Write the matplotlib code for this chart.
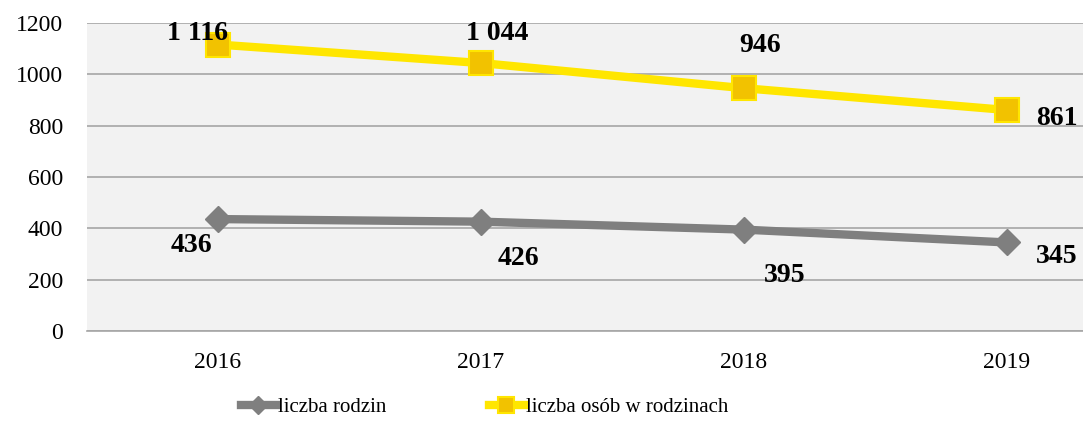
import matplotlib
matplotlib.use('Agg')
import matplotlib.pyplot as plt
import numpy as np

plt.rcParams['font.family'] = ['Liberation Serif', 'DejaVu Serif']

years = ['2016', '2017', '2018', '2019']
rodziny = [436, 426, 395, 345]
osoby = [1116, 1044, 946, 861]
osoby_labels = ['1 116', '1 044', '946', '861']

GRAY = '#7F7F7F'
YELLOW = '#FFE600'
GOLD = '#F2C200'

fig = plt.figure(figsize=(10.83, 4.21), dpi=100)
ax = fig.add_axes([0.0799, 0.2138, 0.971, 0.7316])
ax.set_facecolor('#F2F2F2')

x = np.arange(len(years))
ax.plot(x, rodziny, color=GRAY, lw=6, marker='D', ms=13, mfc=GRAY, mec=GRAY,
        label='liczba rodzin', zorder=3)
ax.plot(x, osoby, color=YELLOW, lw=6, marker='s', ms=17, mfc=GOLD, mec=YELLOW, mew=1.5,
        label='liczba osób w rodzinach', zorder=3)

ax.set_xlim(-0.5, 3.5)
ax.set_ylim(0, 1200)
ax.set_yticks(range(0, 1201, 200))
ax.set_xticks(x)
ax.set_xticklabels(years)
ax.grid(axis='y', color='#A6A6A6', lw=1.2)
ax.set_axisbelow(True)
for s in ['top', 'right', 'left']:
    ax.spines[s].set_visible(False)
ax.spines['bottom'].set_color('#A6A6A6')
ax.spines['bottom'].set_linewidth(1.2)
ax.tick_params(length=0, labelsize=17)
ax.tick_params(axis='x', pad=15)
ax.tick_params(axis='y', pad=17)

# data labels: (dx, dy, ha) offsets in points, text baseline at dy
lab_kw = dict(textcoords='offset points', fontsize=20, fontweight='bold',
              va='baseline', annotation_clip=False)
osoby_off = [(-15, 3, 'center'), (12, 16.5, 'center'), (11.5, 26, 'center'), (21.5, -11, 'left')]
for i, (v, t) in enumerate(zip(osoby, osoby_labels)):
    dx, dy, ha = osoby_off[i]
    ax.annotate(t, (i, v), xytext=(dx, dy), ha=ha, **lab_kw)

rodziny_off = [(-19, -24, 'center'), (27, -31, 'center'), (29.5, -37.5, 'center'), (21, -15, 'left')]
for i, v in enumerate(rodziny):
    dx, dy, ha = rodziny_off[i]
    ax.annotate(str(v), (i, v), xytext=(dx, dy), ha=ha, **lab_kw)

fig.legend(loc='center left', bbox_to_anchor=(0.205, 0.032), ncol=2, frameon=False,
           fontsize=15, handlelength=1.7, handletextpad=0.1, columnspacing=4.9,
           markerscale=0.7)

fig.savefig('out.png', dpi=100)
